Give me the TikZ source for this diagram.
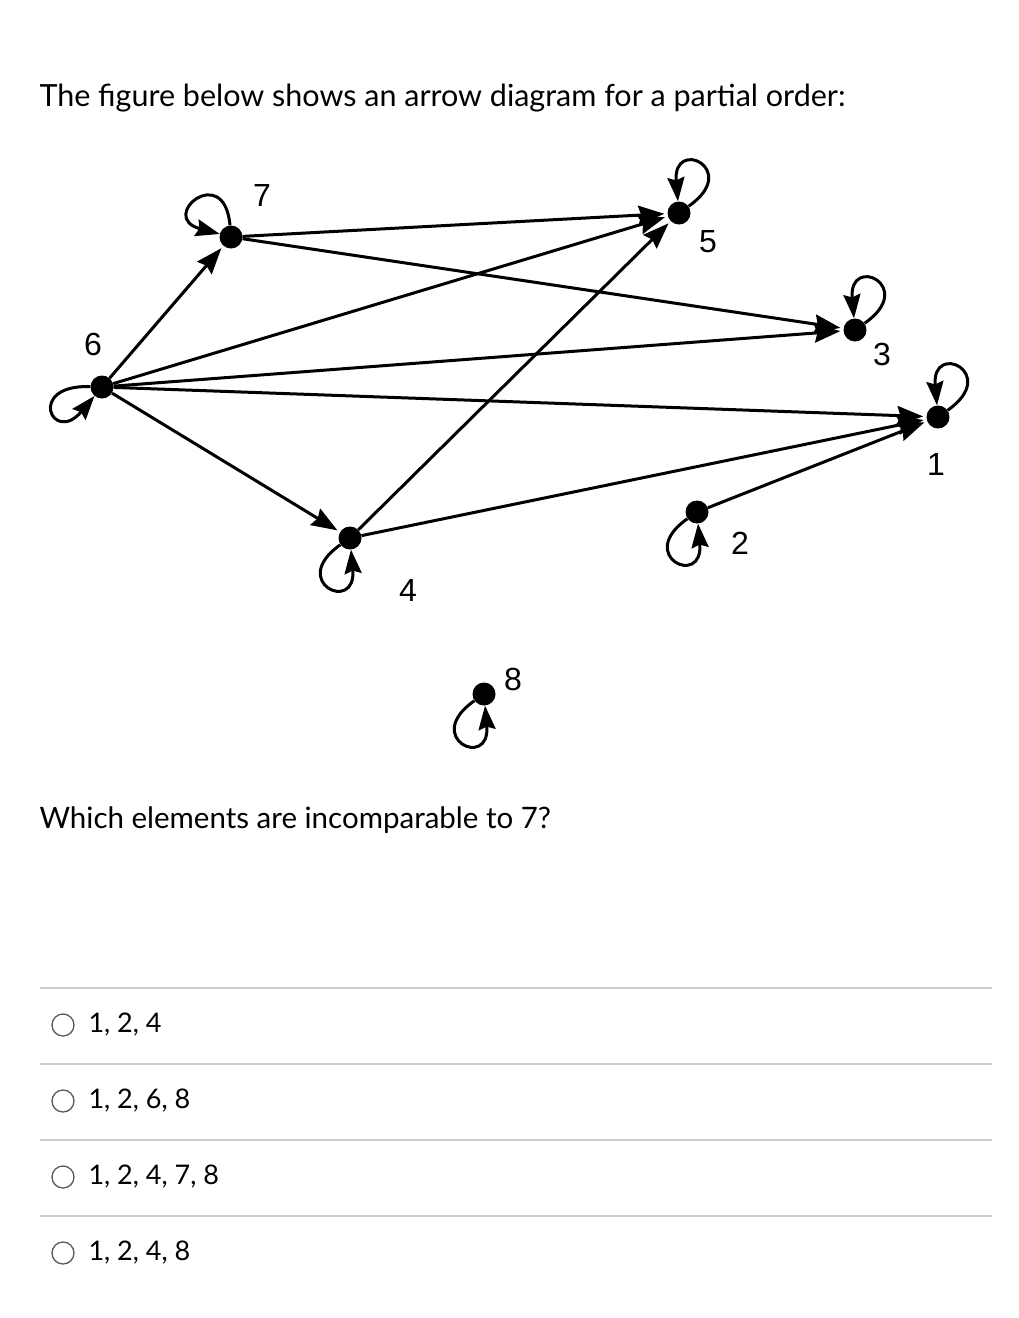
\documentclass[tikz,border=0pt]{standalone}
\usepackage{fontspec}
\setmainfont{Lato}
\newfontfamily\lab{Liberation Sans}
\usetikzlibrary{arrows.meta}
\begin{document}
\begin{tikzpicture}[x=1pt,y=1pt,
  vtx/.style={circle,fill=black,inner sep=0pt,minimum size=23pt},
  lbl/.style={font=\lab\fontsize{32}{32}\selectfont},
  arr/.style={line width=3pt,-{Stealth[length=26pt,width=19pt,inset=3pt]},shorten >=3pt},
  lp/.style={line width=3pt,-{Stealth[length=24pt,width=17pt,inset=3pt]},min distance=65pt},
  opt/.style={font=\fontsize{27}{27}\selectfont,anchor=west}]
\useasboundingbox (0,0) rectangle (1018,-1318);
\node[anchor=west,font=\fontsize{30.5}{30}\selectfont] (t1) at (36,-98) {The figure below shows an arrow diagram for a partial order:};
\node[vtx] (7) at (231,-237) {};
\node[vtx] (5) at (679,-213) {};
\node[vtx] (3) at (855,-330) {};
\node[vtx] (1) at (938,-417) {};
\node[vtx] (2) at (697,-512) {};
\node[vtx] (6) at (102,-387) {};
\node[vtx] (4) at (350,-538) {};
\node[vtx] (8) at (484,-694) {};
\node[lbl] (l7) at (262,-195) {7};
\node[lbl] (l5) at (708,-242) {5};
\node[lbl] (l3) at (882,-354) {3};
\node[lbl] (l1) at (936,-464) {1};
\node[lbl] (l2) at (740,-543) {2};
\node[lbl] (l6) at (93,-344) {6};
\node[lbl] (l4) at (408,-590) {4};
\node[lbl] (l8) at (513,-679) {8};
\draw[arr] (7) -- (5);
\draw[arr] (7) -- (3);
\draw[arr] (6) -- (7);
\draw[arr] (6) -- (5);
\draw[arr] (6) -- (3);
\draw[arr] (6) -- (1);
\draw[arr] (6) -- (4);
\draw[arr] (4) -- (5);
\draw[arr] (4) -- (1);
\draw[arr] (2) -- (1);
\draw[lp] (5) to[out=35,in=95] (5);
\draw[lp] (3) to[out=35,in=95] (3);
\draw[lp] (1) to[out=35,in=95] (1);
\draw[lp] (7) to[out=95,in=165] (7);
\draw[lp] (6) to[out=178,in=230] (6);
\draw[lp] (4) to[out=215,in=275] (4);
\draw[lp] (2) to[out=215,in=275] (2);
\draw[lp] (8) to[out=215,in=275] (8);
\node[anchor=west,font=\fontsize{29.5}{29}\selectfont] (q) at (36,-820) {Which elements are incomparable to 7?};
\foreach \y/\t [count=\i] in {1025/{1, 2, 4},1101/{1, 2, 6, 8},1177/{1, 2, 4, 7, 8},1253/{1, 2, 4, 8}}{
  \draw[gray!40,line width=1.2pt] (40,-\y+37) -- (992,-\y+37);
  \draw[gray!70!black,line width=1.3pt] (63,-\y) circle (11);
  \node[opt] (o\i) at (85,-\y) {\t};
}
\end{tikzpicture}
\end{document}
